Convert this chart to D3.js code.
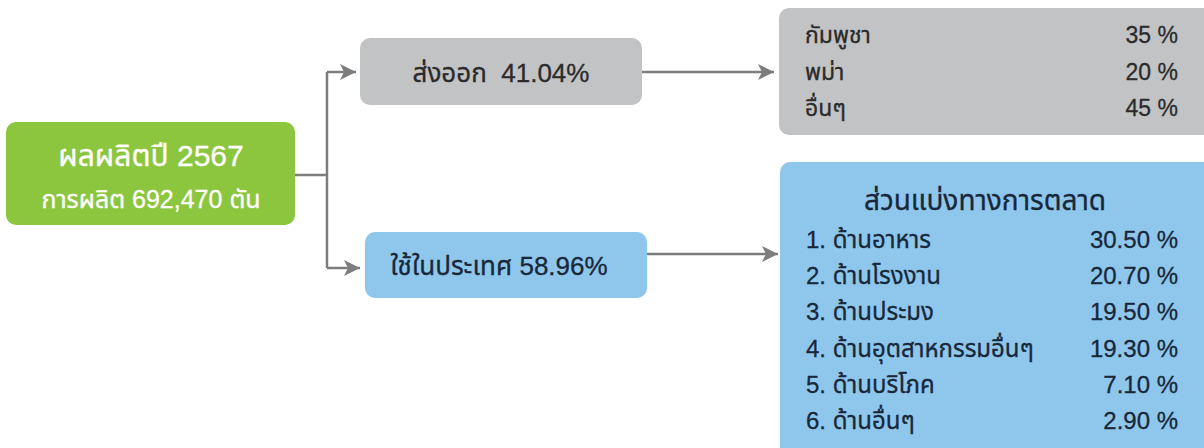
<!DOCTYPE html>
<html><head><meta charset="utf-8">
<script src="https://cdn.jsdelivr.net/npm/d3@7"></script>
<style>
html,body{margin:0;padding:0;background:#fff;}
svg{display:block;font-family:"Liberation Sans","Noto Sans Thai","Noto Sans",sans-serif;}
svg text{white-space:pre;stroke-width:0.3px;}
</style></head><body>
<svg id="c" width="1204" height="448"></svg>
<script>
// ---- data ----
const rootTitle = "ผลผลิตปี 2567";
const rootSub = "การผลิต 692,470 ตัน";
const branchLabels = ["ส่งออก  41.04%", "ใช้ในประเทศ 58.96%"];
const exportNames = ["กัมพูชา", "พม่า", "อื่นๆ"];
const exportValues = [35, 20, 45];
const marketTitle = "ส่วนแบ่งทางการตลาด";
const marketNames = ["1. ด้านอาหาร", "2. ด้านโรงงาน", "3. ด้านประมง", "4. ด้านอุตสาหกรรมอื่นๆ", "5. ด้านบริโภค", "6. ด้านอื่นๆ"];
const marketValues = [30.50, 20.70, 19.50, 19.30, 7.10, 2.90];

const svg = d3.select("#c");
const arrowCol = "#7d7d7d";
const darkGray = "#2b2b2b", navy = "#17283a";
svg.append("defs").append("marker")
  .attr("id","ah").attr("viewBox","0 0 10 10").attr("refX",10).attr("refY",5)
  .attr("markerWidth",22).attr("markerHeight",16).attr("markerUnits","userSpaceOnUse")
  .attr("orient","auto")
  .append("path").attr("d","M0,0 L10,5 L0,10 L2.5,5 Z").attr("fill",arrowCol);

function box(x,y,w,h,fill){
  svg.append("rect").attr("x",x).attr("y",y).attr("width",w).attr("height",h)
    .attr("rx",10).attr("fill",fill);
}
function line(pts, arrow){
  const p = svg.append("path").attr("d", d3.line()(pts)).attr("fill","none")
    .attr("stroke",arrowCol).attr("stroke-width",2.5);
  if(arrow) p.attr("marker-end","url(#ah)");
}
function label(x,y,size,col,txt,anchor){
  return svg.append("text").attr("x",x).attr("y",y).attr("font-size",size)
    .attr("fill",col).attr("stroke",col).attr("text-anchor",anchor||"start").text(txt);
}

// connectors
line([[295,175],[327,175]]);
line([[327,72],[327,268]]);
line([[327,72],[356,72]], true);
line([[327,268],[360,268]], true);
line([[642,72],[774,72]], true);
line([[647,254],[778,254]], true);

// root box
box(6,122,289,103,"#8cc63f");
label(151,166,30,"#fff",rootTitle,"middle");
label(151,208,25,"#fff",rootSub,"middle");

// branch boxes
box(360,38,282,67,"#c2c3c5");
label(501,82,26,darkGray,branchLabels[0],"middle");
box(365,232,282,66,"#8fc6ec");
label(499,275,26,navy,branchLabels[1],"middle");

// export box
box(779,8,440,127,"#c2c3c5");
const yE = d3.scalePoint().domain(exportNames).range([35,108]);
exportNames.forEach((d,i)=>{
  label(805,yE(d)+8,23,darkGray,d);
  label(1178,yE(d)+8,23,darkGray,exportValues[i]+" %","end");
});

// market box
box(780,162,440,300,"#8fc6ec");
label(985,210,28,navy,marketTitle,"middle");
const yM = d3.scalePoint().domain(marketNames).range([240,421]);
marketNames.forEach((d,i)=>{
  label(806,yM(d)+8,24,navy,d);
  label(1178,yM(d)+8,24,navy,d3.format(".2f")(marketValues[i])+" %","end");
});
</script></body></html>
